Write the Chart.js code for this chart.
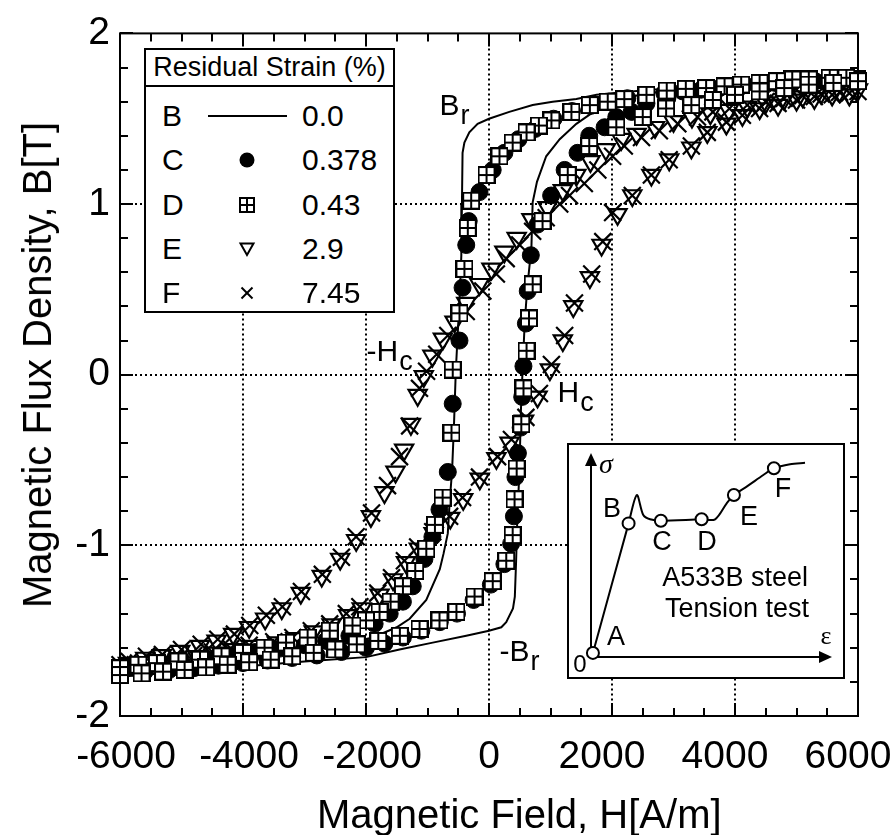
<!DOCTYPE html>
<html>
<head>
<meta charset="utf-8">
<script src="https://cdn.jsdelivr.net/npm/chart.js@4.4.0/dist/chart.umd.min.js"></script>
<style>
  html, body { margin: 0; padding: 0; background: #fff; }
  body { width: 890px; height: 835px; position: relative; overflow: hidden;
         font-family: "Liberation Sans", Arial, Helvetica, sans-serif; color: #000; }
  #main { position: absolute; left: 0; top: 0; }
  .title { position: absolute; font-size: 40px; line-height: 40px; white-space: nowrap; }
  #xTitle { left: 317px; top: 794px; }
  #yTitle { left: 37px; top: 365px; transform: translate(-50%, -50%) rotate(-90deg); }
  #legend { position: absolute; left: 144px; top: 48px; width: 251px; height: 265px;
            box-sizing: border-box; border: 2px solid #000; background: #fff; }
  #legend .head { height: 35px; border-bottom: 2px solid #000; font-size: 27px;
                  line-height: 35px; text-align: center; }
  #legend .row { position: absolute; left: 0; width: 100%; height: 44px; font-size: 30px; line-height: 44px; }
  #legend .k { position: absolute; left: 16px; }
  #legend .v { position: absolute; left: 156px; }
  #legend svg { position: absolute; left: 92px; top: 13px; }
  #inset { position: absolute; left: 567px; top: 443px; width: 278px; height: 236px;
           box-sizing: border-box; border: 2px solid #000; background: #fff; }
  #insetChart { position: absolute; left: 0; top: 0; display: block; }
</style>
</head>
<body>
<canvas id="main" width="890" height="835"></canvas>
<div id="legend"><div class="head">Residual Strain (%)</div></div>
<div id="inset"><canvas id="insetChart" width="274" height="232"></canvas></div>
<div class="title" id="xTitle">Magnetic Field, H[A/m]</div>
<div class="title" id="yTitle">Magnetic Flux Density, B[T]</div>

<script>
// Axis ticks
const xTicks = [-6000, -4000, -2000, 0, 2000, 4000, 6000];
const yTicks = [-2, -1, 0, 1, 2];

// Legend rows
const legendKeys = ['B', 'C', 'D', 'E', 'F'];
const legendStrain = ['0.0', '0.378', '0.43', '2.9', '7.45'];
const legendSymbols = ['line', 'circle', 'square', 'triangle', 'cross'];

// B (0.0 %) solid loop: [H, B]
const bDown = [[6000,1.74],[5000,1.72],[4000,1.70],[3000,1.68],[2500,1.665],[2000,1.65],[1750,1.64],[1420,1.615],
  [1035,1.60],[710,1.58],[330,1.54],[0,1.50],[-185,1.47],[-320,1.42],[-400,1.36],[-430,1.30],[-440,1.00],
  [-450,0.70],[-470,0.50],[-500,0.30],[-540,0.02],[-570,-0.30],[-600,-0.56],[-640,-0.75],[-670,-0.93],
  [-740,-1.05],[-800,-1.14],[-1020,-1.32],[-1290,-1.43],[-1500,-1.48],[-1890,-1.54],[-2500,-1.59],
  [-3000,-1.62],[-4000,-1.67],[-5000,-1.71],[-6000,-1.75]];
const bUp = [[-6000,-1.77],[-5000,-1.74],[-4000,-1.71],[-3000,-1.68],[-2000,-1.655],[-1455,-1.61],[-915,-1.57],
  [-370,-1.53],[0,-1.50],[200,-1.48],[280,-1.45],[390,-1.37],[420,-1.30],[440,-1.10],[460,-0.85],[495,-0.56],
  [520,-0.20],[545,0.02],[580,0.30],[620,0.50],[690,0.75],[710,1.01],[780,1.13],[930,1.28],[1150,1.38],
  [1420,1.47],[1700,1.54],[2000,1.60],[2500,1.645],[3000,1.67],[4000,1.70],[5000,1.72],[6000,1.74]];

// C (0.378 %) filled circles
const cDown = [[6000,1.73],[5650,1.73],[5300,1.72],[4950,1.715],[4650,1.71],[4350,1.70],[4050,1.69],[3750,1.68],
  [3450,1.67],[3150,1.66],[2850,1.65],[2550,1.635],[2250,1.62],[1950,1.60],[1650,1.575],[1350,1.545],[1050,1.50],
  [750,1.44],[480,1.38],[250,1.30],[60,1.20],[-155,1.07],[-330,0.90],[-370,0.76],[-430,0.51],[-480,0.20],
  [-590,-0.17],[-670,-0.57],[-805,-0.79],[-920,-0.95],[-1050,-1.08],[-1240,-1.24],[-1400,-1.33],[-1615,-1.40],
  [-1860,-1.46],[-2270,-1.53],[-2650,-1.56],[-3000,-1.585],[-3400,-1.605],[-3800,-1.625],[-4200,-1.645],
  [-4600,-1.665],[-5000,-1.685],[-5400,-1.70],[-5800,-1.715],[-6000,-1.72]];
const cUp = [[-6000,-1.75],[-5600,-1.74],[-5200,-1.73],[-4800,-1.72],[-4400,-1.705],[-4000,-1.69],[-3600,-1.675],
  [-3200,-1.66],[-2800,-1.645],[-2400,-1.625],[-2000,-1.60],[-1700,-1.575],[-1400,-1.54],[-1100,-1.50],
  [-800,-1.45],[-520,-1.40],[-250,-1.32],[30,-1.23],[250,-1.11],[360,-0.99],[405,-0.83],[430,-0.60],
  [470,-0.46],[515,-0.31],[540,-0.13],[560,0.05],[600,0.30],[630,0.49],[680,0.70],[790,0.88],[1010,1.05],
  [1230,1.20],[1440,1.30],[1630,1.40],[1880,1.45],[2070,1.51],[2320,1.54],[2560,1.59],[2900,1.62],[3300,1.65],
  [3700,1.67],[4100,1.69],[4500,1.70],[4900,1.71],[5300,1.72],[5700,1.73],[6000,1.73]];

// D (0.43 %) squares with a cross
const dDown = [[5980,1.73],[5810,1.74],[5540,1.74],[5200,1.73],[4930,1.73],[4680,1.72],[4400,1.71],[4100,1.70],
  [3830,1.69],[3530,1.68],[3200,1.675],[2890,1.665],[2560,1.64],[2200,1.615],[1930,1.60],[1640,1.58],[1340,1.54],
  [1015,1.49],[810,1.46],[610,1.42],[385,1.36],[170,1.28],[-40,1.17],[-290,1.02],[-345,0.86],[-400,0.62],
  [-480,0.36],[-590,0.03],[-610,-0.34],[-755,-0.72],[-880,-0.88],[-1020,-1.02],[-1200,-1.15],[-1400,-1.24],
  [-1600,-1.33],[-1780,-1.39],[-2000,-1.44],[-2220,-1.47],[-2590,-1.50],[-2950,-1.54],[-3300,-1.57],
  [-3650,-1.60],[-4000,-1.63],[-4350,-1.65],[-4700,-1.67],[-5050,-1.68],[-5400,-1.69],[-5700,-1.70],[-6000,-1.72]];
const dUp = [[-6000,-1.76],[-5650,-1.75],[-5300,-1.74],[-4950,-1.73],[-4600,-1.715],[-4250,-1.70],[-3900,-1.685],
  [-3550,-1.67],[-3200,-1.65],[-2850,-1.63],[-2500,-1.61],[-2150,-1.58],[-1800,-1.56],[-1450,-1.53],[-1130,-1.49],
  [-805,-1.44],[-530,-1.39],[-235,-1.30],[60,-1.21],[280,-1.09],[385,-0.94],[415,-0.73],[450,-0.55],[525,-0.29],
  [560,-0.08],[610,0.14],[650,0.33],[710,0.53],[870,0.90],[1280,1.17],[1630,1.34],[2070,1.45],[2500,1.51],
  [2880,1.56],[3290,1.58],[3640,1.61],[4000,1.64],[4400,1.66],[4800,1.68],[5200,1.70],[5600,1.71],[6000,1.72]];

// E (2.9 %) open triangles
const eDown = [[6000,1.67],[5700,1.66],[5400,1.65],[5100,1.63],[4800,1.615],[4500,1.595],[4200,1.57],[3900,1.55],
  [3600,1.53],[3300,1.51],[3000,1.485],[2700,1.45],[2400,1.41],[2150,1.38],[1900,1.32],[1650,1.25],[1420,1.17],
  [1200,1.08],[950,0.98],[690,0.91],[450,0.80],[250,0.72],[40,0.62],[-155,0.53],[-370,0.42],[-560,0.31],
  [-750,0.21],[-920,0.11],[-1060,-0.01],[-1160,-0.12],[-1270,-0.29],[-1380,-0.44],[-1520,-0.57],[-1700,-0.69],
  [-1920,-0.83],[-2160,-0.97],[-2420,-1.08],[-2720,-1.18],[-3060,-1.28],[-3370,-1.37],[-3640,-1.43],[-3900,-1.48],
  [-4160,-1.52],[-4430,-1.56],[-4700,-1.59],[-5020,-1.62],[-5320,-1.645],[-5590,-1.66],[-5870,-1.69]];
const eUp = [[-5950,-1.71],[-5650,-1.70],[-5350,-1.685],[-5050,-1.67],[-4750,-1.65],[-4450,-1.63],[-4150,-1.61],
  [-3850,-1.59],[-3450,-1.57],[-3150,-1.545],[-2850,-1.505],[-2560,-1.465],[-2290,-1.41],[-2070,-1.37],
  [-1780,-1.29],[-1560,-1.20],[-1350,-1.10],[-1140,-1.02],[-900,-0.93],[-630,-0.84],[-420,-0.73],[-150,-0.61],
  [120,-0.49],[335,-0.40],[570,-0.27],[790,-0.13],[990,0.03],[1200,0.20],[1370,0.40],[1640,0.57],[1830,0.76],
  [2090,0.94],[2330,1.05],[2640,1.17],[2930,1.26],[3290,1.33],[3550,1.42],[3860,1.47],[4120,1.52],[4400,1.56],
  [4700,1.58],[5000,1.61],[5290,1.62],[5580,1.64],[5860,1.64]];

// F (7.45 %) crosses
const fDown = [[6000,1.66],[5700,1.655],[5400,1.645],[5100,1.635],[4800,1.62],[4500,1.60],[4200,1.58],[3910,1.56],
  [3640,1.54],[3390,1.51],[3070,1.47],[2770,1.43],[2480,1.39],[2200,1.34],[2010,1.28],[1770,1.20],[1550,1.12],
  [1310,1.05],[1150,1.00],[930,0.92],[710,0.84],[500,0.76],[280,0.68],[120,0.59],[-100,0.49],[-370,0.37],
  [-670,0.23],[-850,0.12],[-1015,0.02],[-1130,-0.08],[-1290,-0.30],[-1455,-0.48],[-1650,-0.65],[-1910,-0.81],
  [-2160,-0.95],[-2400,-1.07],[-2710,-1.17],[-3050,-1.27],[-3360,-1.36],[-3620,-1.41],[-3890,-1.47],[-4140,-1.52],
  [-4410,-1.55],[-4680,-1.58],[-5000,-1.61],[-5310,-1.64],[-5570,-1.65],[-5850,-1.68]];
const fUp = [[-6000,-1.70],[-5700,-1.69],[-5400,-1.675],[-5100,-1.66],[-4800,-1.645],[-4500,-1.625],[-4200,-1.605],
  [-3900,-1.585],[-3500,-1.565],[-3190,-1.54],[-2890,-1.50],[-2590,-1.46],[-2320,-1.40],[-2100,-1.36],
  [-1810,-1.28],[-1585,-1.19],[-1375,-1.09],[-1160,-1.01],[-915,-0.92],[-640,-0.83],[-430,-0.72],[-155,-0.60],
  [140,-0.48],[365,-0.38],[600,-0.25],[820,-0.11],[1015,0.06],[1230,0.23],[1390,0.42],[1670,0.59],[1850,0.78],
  [2010,0.95],[2330,1.05],[2640,1.17],[2930,1.26],[3290,1.34],[3550,1.42],[3860,1.48],[4120,1.52],[4400,1.56],
  [4700,1.59],[5000,1.61],[5290,1.63],[5580,1.64],[5860,1.65]];

// Inset: schematic stress-strain curve (arbitrary units 0..10)
const insetStrain = [0.08, 1.56, 1.90, 2.17, 2.45, 2.90, 4.59, 5.15, 5.63, 5.93, 6.46, 7.15, 7.59, 8.26, 8.88];
const insetStress = [0.20, 6.55, 7.94, 6.96, 6.75, 6.68, 6.75, 6.75, 7.53, 7.94, 8.35, 8.92, 9.25, 9.45, 9.52];
const insetPointStrain = [0.08, 1.56, 2.90, 4.59, 5.93, 7.59];
const insetPointStress = [0.20, 6.55, 6.68, 6.75, 7.94, 9.25];

const FONT = '"Liberation Sans", Arial, Helvetica, sans-serif';
Chart.defaults.font.family = FONT;
Chart.defaults.color = '#000';

function toPoints(pairs) {
    return pairs.map(p => ({ x: p[0], y: p[1] }));
}

// square marker with a cross inside (2px frame, 2px bars)
function squarePlus(size) {
    const c = document.createElement('canvas');
    c.width = size;
    c.height = size;
    const g = c.getContext('2d');
    g.fillStyle = '#000';
    g.fillRect(0, 0, size, size);
    g.fillStyle = '#fff';
    const w = (size - 6) / 2;
    g.fillRect(2, 2, w, w);
    g.fillRect(4 + w, 2, w, w);
    g.fillRect(2, 4 + w, w, w);
    g.fillRect(4 + w, 4 + w, w, w);
    return c;
}

// Frame, dotted grid and inward ticks
const framePlugin = {
    id: 'frame',
    beforeDatasetsDraw(chart) {
        const { ctx, chartArea: a, scales: { x, y } } = chart;
        ctx.save();
        ctx.strokeStyle = '#000';
        ctx.lineWidth = 2;
        ctx.setLineDash([2, 3]);
        ctx.beginPath();
        xTicks.slice(1, -1).forEach(v => {
            const px = Math.round(x.getPixelForValue(v));
            ctx.moveTo(px, a.top);
            ctx.lineTo(px, a.bottom);
        });
        yTicks.slice(1, -1).forEach(v => {
            const py = Math.round(y.getPixelForValue(v));
            ctx.moveTo(a.left, py);
            ctx.lineTo(a.right, py);
        });
        ctx.stroke();
        ctx.setLineDash([]);
        ctx.beginPath();
        for (let k = -12; k <= 12; k++) {
            const px = Math.round(x.getPixelForValue(k * 500));
            const len = k % 4 === 0 ? 13 : 8;
            ctx.moveTo(px, a.bottom);
            ctx.lineTo(px, a.bottom - len);
            ctx.moveTo(px, a.top);
            ctx.lineTo(px, a.top + len);
        }
        for (let k = -10; k <= 10; k++) {
            const py = Math.round(y.getPixelForValue(k * 0.2));
            const len = k % 5 === 0 ? 13 : 8;
            ctx.moveTo(a.left, py);
            ctx.lineTo(a.left + len, py);
            ctx.moveTo(a.right, py);
            ctx.lineTo(a.right - len, py);
        }
        ctx.stroke();
        ctx.strokeRect(a.left, a.top, a.right - a.left, a.bottom - a.top);
        ctx.restore();
    }
};

// Labels Br, Hc placed in data units
const annotations = [
    { text: 'B', sub: 'r', h: -805, b: 1.52 },
    { text: '-H', sub: 'c', h: -1990, b: 0.08 },
    { text: 'H', sub: 'c', h: 1114, b: -0.16 },
    { text: '-B', sub: 'r', h: 171, b: -1.68 }
];

const textPlugin = {
    id: 'texts',
    afterDraw(chart) {
        const { ctx, chartArea: a, scales: { x, y } } = chart;
        ctx.save();
        ctx.fillStyle = '#000';
        ctx.textBaseline = 'alphabetic';
        ctx.textAlign = 'left';
        annotations.forEach(t => {
            const px = x.getPixelForValue(t.h);
            const py = y.getPixelForValue(t.b);
            ctx.font = '30px ' + FONT;
            ctx.fillText(t.text, px, py);
            const w = ctx.measureText(t.text).width;
            ctx.font = '27px ' + FONT;
            ctx.fillText(t.sub, px + w + 1, py + 9);
        });
        // x tick labels
        ctx.font = '39px ' + FONT;
        ctx.textAlign = 'center';
        xTicks.forEach(v => {
            const shift = v < 0 ? 6 : (v > 0 ? -10 : 0);
            ctx.fillText(String(v), x.getPixelForValue(v) + shift, a.bottom + 52);
        });
        ctx.restore();
    }
};

new Chart(document.getElementById('main'), {
    type: 'scatter',
    data: {
        datasets: [
            { label: 'D', data: toPoints(dDown.concat(dUp)), pointStyle: squarePlus(18), pointRadius: 9, clip: false },
            { label: 'C', data: toPoints(cDown.concat(cUp)), pointStyle: 'circle', pointRadius: 8.5,
              backgroundColor: '#000', borderColor: '#000', borderWidth: 1, clip: false },
            { label: 'F', data: toPoints(fDown.concat(fUp)), pointStyle: 'crossRot', pointRadius: 12,
              borderColor: '#000', borderWidth: 2.2, clip: false },
            { label: 'E', data: toPoints(eDown.concat(eUp)), pointStyle: 'triangle', pointRotation: 180, pointRadius: 10.5,
              backgroundColor: 'rgba(0,0,0,0)', borderColor: '#000', borderWidth: 2.2, clip: false },
            { label: 'B', data: toPoints(bDown.concat(bUp)), showLine: true, pointRadius: 0, borderColor: '#000',
              borderWidth: 2, tension: 0, fill: false }
        ]
    },
    options: {
        responsive: false,
        animation: false,
        devicePixelRatio: 1,
        events: [],
        layout: { padding: { top: 29, right: 32, bottom: 0, left: 0 } },
        plugins: { legend: { display: false }, tooltip: { enabled: false } },
        scales: {
            x: {
                type: 'linear', min: -6000, max: 6000,
                grid: { display: false, drawTicks: false }, border: { display: false },
                ticks: { display: false },
                afterFit(s) { s.height = 119; }
            },
            y: {
                type: 'linear', min: -2, max: 2,
                grid: { display: false, drawTicks: false }, border: { display: false },
                ticks: { stepSize: 1, padding: 10, color: '#000', font: { size: 39 } },
                afterFit(s) { s.width = 120; }
            }
        }
    },
    plugins: [framePlugin, textPlugin]
});

// Legend table
const legendBox = document.getElementById('legend');
const symbolSvg = {
    circle: '<circle cx="9" cy="9" r="7.5" fill="#000"/>',
    square: '<rect x="2" y="2" width="14" height="14" fill="none" stroke="#000" stroke-width="2"/>' +
            '<line x1="9" y1="2" x2="9" y2="16" stroke="#000" stroke-width="2"/>' +
            '<line x1="2" y1="9" x2="16" y2="9" stroke="#000" stroke-width="2"/>',
    triangle: '<polygon points="2.5,3.5 15.5,3.5 9,15" fill="none" stroke="#000" stroke-width="2"/>',
    cross: '<line x1="3.5" y1="3.5" x2="14.5" y2="14.5" stroke="#000" stroke-width="2"/>' +
           '<line x1="14.5" y1="3.5" x2="3.5" y2="14.5" stroke="#000" stroke-width="2"/>'
};
legendKeys.forEach((key, i) => {
    const row = document.createElement('div');
    row.className = 'row';
    row.style.top = (44 + i * 44.25) + 'px';
    let sym;
    if (legendSymbols[i] === 'line') {
        sym = '<div style="position:absolute;left:62px;top:21px;width:79px;height:2px;background:#000"></div>';
    } else {
        sym = '<svg width="18" height="18" viewBox="0 0 18 18">' + symbolSvg[legendSymbols[i]] + '</svg>';
    }
    row.innerHTML = '<span class="k">' + key + '</span>' + sym + '<span class="v">' + legendStrain[i] + '</span>';
    legendBox.appendChild(row);
});

// Inset: tension test sketch
const insetLabels = [
    { text: 'A', x: 1.04, y: 0.93 },
    { text: 'B', x: 0.87, y: 7.21 },
    { text: 'C', x: 2.95, y: 5.59 },
    { text: 'D', x: 4.81, y: 5.59 },
    { text: 'E', x: 6.56, y: 6.86 },
    { text: 'F', x: 7.97, y: 8.19 },
    { text: 'A533B steel', x: 5.98, y: 3.87 },
    { text: 'Tension test', x: 6.06, y: 2.35 }
];

const insetPlugin = {
    id: 'insetDeco',
    beforeDatasetsDraw(chart) {
        const { ctx, scales: { x, y } } = chart;
        const x0 = x.getPixelForValue(0), y0 = y.getPixelForValue(0);
        const xe = x.getPixelForValue(10), ye = y.getPixelForValue(10);
        ctx.save();
        ctx.strokeStyle = '#000';
        ctx.fillStyle = '#000';
        ctx.lineWidth = 2;
        ctx.beginPath();
        ctx.moveTo(x0, y0);
        ctx.lineTo(x0, ye + 10);
        ctx.moveTo(x0, y0);
        ctx.lineTo(xe - 10, y0);
        ctx.stroke();
        ctx.beginPath();
        ctx.moveTo(x0, ye);
        ctx.lineTo(x0 - 6, ye + 13);
        ctx.lineTo(x0 + 6, ye + 13);
        ctx.closePath();
        ctx.fill();
        ctx.beginPath();
        ctx.moveTo(xe, y0);
        ctx.lineTo(xe - 13, y0 - 6);
        ctx.lineTo(xe - 13, y0 + 6);
        ctx.closePath();
        ctx.fill();
        ctx.restore();
    },
    afterDatasetsDraw(chart) {
        const { ctx, scales: { x, y } } = chart;
        ctx.save();
        ctx.fillStyle = '#000';
        ctx.textAlign = 'center';
        ctx.textBaseline = 'middle';
        ctx.font = '27px ' + FONT;
        insetLabels.forEach(l => ctx.fillText(l.text, x.getPixelForValue(l.x), y.getPixelForValue(l.y)));
        ctx.font = 'italic 28px "Liberation Serif", "Times New Roman", serif';
        ctx.fillText('σ', x.getPixelForValue(0.62), y.getPixelForValue(9.36));
        ctx.font = '26px "Liberation Serif", "Times New Roman", serif';
        ctx.fillText('ε', x.getPixelForValue(9.75), y.getPixelForValue(0.98));
        ctx.font = '24px ' + FONT;
        ctx.fillText('0', x.getPixelForValue(-0.46), y.getPixelForValue(-0.39));
        ctx.restore();
    }
};

new Chart(document.getElementById('insetChart'), {
    type: 'scatter',
    data: {
        datasets: [
            { data: insetPointStrain.map((s, i) => ({ x: s, y: insetPointStress[i] })), pointStyle: 'circle',
              pointRadius: 6, backgroundColor: '#fff', borderColor: '#000', borderWidth: 2, clip: false },
            { data: insetStrain.map((s, i) => ({ x: s, y: insetStress[i] })), showLine: true, pointRadius: 0,
              borderColor: '#000', borderWidth: 2, tension: 0.3, fill: false, clip: false }
        ]
    },
    options: {
        responsive: false,
        animation: false,
        devicePixelRatio: 1,
        events: [],
        layout: { padding: { left: 22, top: 8, right: 11, bottom: 20 } },
        plugins: { legend: { display: false }, tooltip: { enabled: false } },
        scales: {
            x: { type: 'linear', min: 0, max: 10, display: false },
            y: { type: 'linear', min: 0, max: 10, display: false }
        }
    },
    plugins: [insetPlugin]
});
</script>
</body>
</html>
